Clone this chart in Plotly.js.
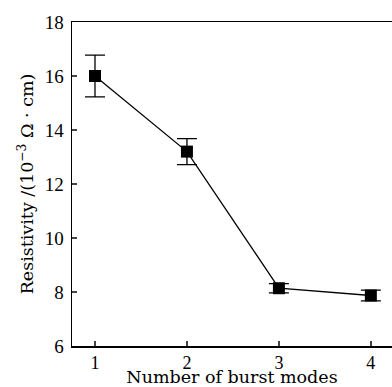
<!DOCTYPE html>
<html><head><meta charset="utf-8">
<script src="https://cdn.plot.ly/plotly-3.0.1.min.js"></script>
<style>body{margin:0;background:#fff}#c{width:392px;height:387px}</style>
</head><body><div id="c"></div>
<script>
const modes = [1, 2, 3, 4];
const resistivity = [16.0, 13.2, 8.14, 7.87];
const errors = [0.77, 0.48, 0.17, 0.2];
const xTicks = [1, 2, 3, 4];
const yTicks = [6, 8, 10, 12, 14, 16, 18];

const tickFont = {family: 'Liberation Serif, serif', color: '#000', size: 19};
const xTickFont = {family: 'Liberation Serif, serif', color: '#000', size: 18};
const titleFont = {family: 'DejaVu Serif, serif', color: '#000', size: 17.5};
Plotly.newPlot('c', [{
  x: modes, y: resistivity, type: 'scatter', mode: 'lines+markers',
  line: {color: '#000', width: 1.3},
  marker: {symbol: 'square', size: 12, color: '#000'},
  error_y: {type: 'data', array: errors, visible: true, color: '#000', thickness: 1.3, width: 10}
}], {
  width: 392, height: 387,
  margin: {l: 72, r: 0, t: 22, b: 41},
  paper_bgcolor: '#fff', plot_bgcolor: '#fff',
  showlegend: false,
  font: tickFont,
  xaxis: {
    range: [0.75, 4.23], tickvals: xTicks, ticks: 'inside', ticklen: 5, tickwidth: 1.3,
    showline: true, linecolor: '#000', linewidth: 1.5, mirror: true, showgrid: false, zeroline: false,
    tickfont: xTickFont, ticklabelstandoff: 0,
    title: {text: 'Number of burst modes', font: titleFont, standoff: 0}
  },
  yaxis: {
    range: [6, 18], tickvals: yTicks, ticks: 'inside', ticklen: 5, tickwidth: 1.3,
    showline: true, linecolor: '#000', linewidth: 1.5, showgrid: false, zeroline: false,
    tickfont: tickFont, ticklabelstandoff: 3,
    title: {text: 'Resistivity /(10<sup>−3</sup> Ω · cm)', font: titleFont, standoff: 6}
  }
}, {staticPlot: true});
</script></body></html>
